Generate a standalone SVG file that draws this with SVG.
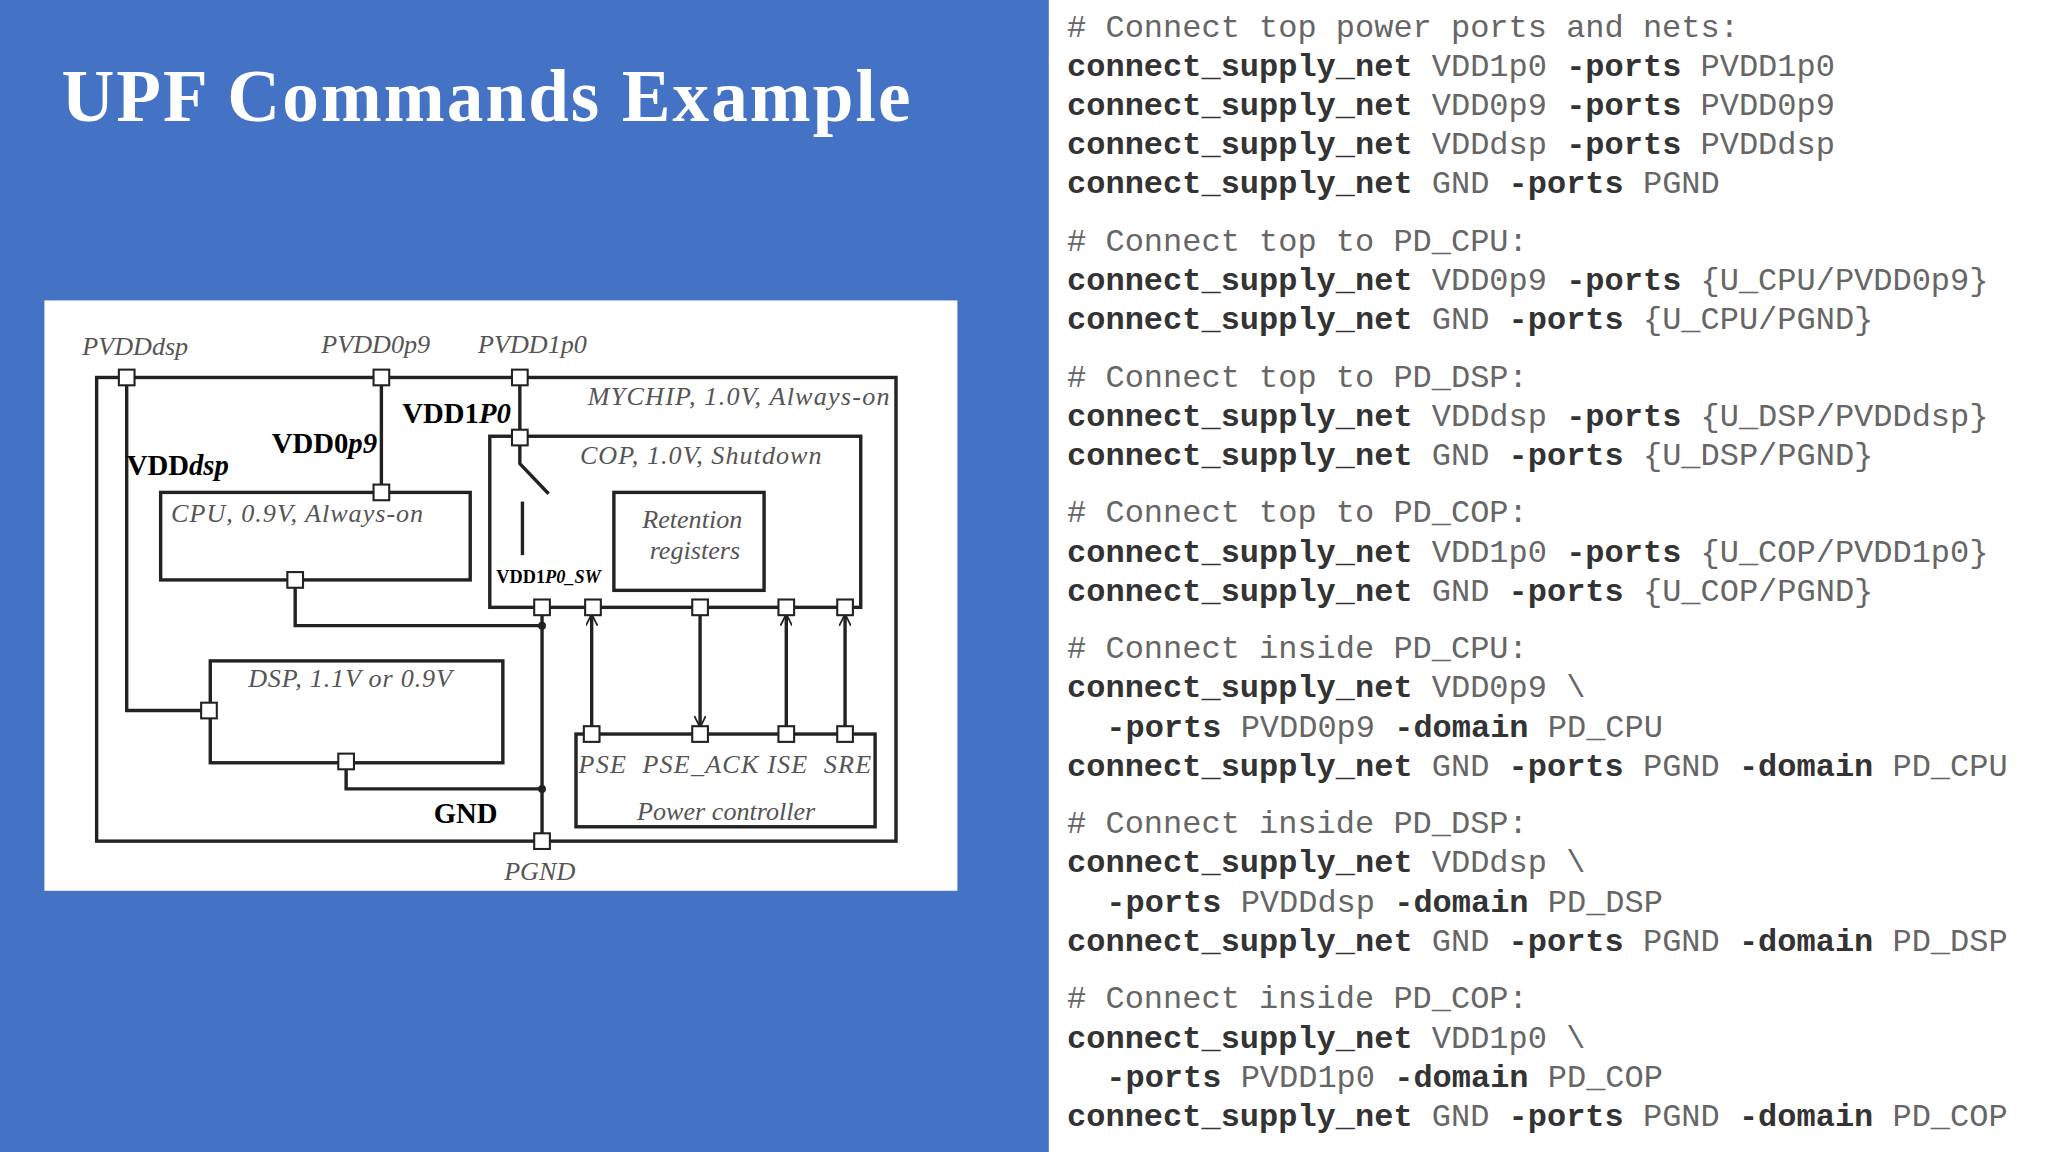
<svg xmlns="http://www.w3.org/2000/svg" width="2048" height="1152" viewBox="0 0 2048 1152">
<style>
.ln{stroke:#222;stroke-width:2.6;fill:none}
.bx{stroke:#222;stroke-width:2.6;fill:none}
.pt{stroke:#222;stroke-width:1.6;fill:#fff}
.lb{font-family:"Liberation Serif",serif;font-style:italic;font-size:20px;fill:#555}
.bl{font-family:"Liberation Serif",serif;font-weight:bold;font-size:22px;fill:#000}
.c{font-family:"Liberation Mono",monospace;font-size:24.5px;fill:#666}
.b{font-weight:bold;fill:#333}
</style>
<defs>
<marker id="ah" viewBox="0 0 10 10" refX="9" refY="5" markerWidth="9" markerHeight="9" orient="auto-start-reverse" markerUnits="userSpaceOnUse"><path d="M0,0 L10,5 L0,10" fill="none" stroke="#222" stroke-width="1.5"/></marker>
</defs>
<rect width="2048" height="1152" fill="#4472c4"/>
<g transform="scale(1.30612)">
<text x="47" y="93" font-family="Liberation Serif,serif" font-weight="bold" font-size="56" fill="#fff" textLength="650">UPF Commands Example</text>
<rect x="34" y="230" width="699" height="452" fill="#fff"/>
<rect x="803" y="0" width="765" height="882" fill="#fff"/>

<g id="connectors">
<path class="ln" d="M97,289 V544 H160"/>
<path class="ln" d="M292,289 V377"/>
<path class="ln" d="M398,289 V335 V355 L420,378"/>
<path class="ln" d="M400,384 V425"/>
<path class="ln" d="M226,444 V479 H415"/>
<path class="ln" d="M265,583 V604 H415"/>
<path class="ln" d="M415,465 V644"/>
<circle cx="415" cy="479" r="3" fill="#222"/>
<circle cx="415" cy="604" r="3" fill="#222"/>
<line class="ln" x1="453" y1="562" x2="453" y2="471" marker-end="url(#ah)"/>
<line class="ln" x1="536" y1="471" x2="536" y2="556" marker-end="url(#ah)"/>
<line class="ln" x1="602" y1="562" x2="602" y2="471" marker-end="url(#ah)"/>
<line class="ln" x1="647" y1="562" x2="647" y2="471" marker-end="url(#ah)"/>
</g>

<g id="mychip">
<rect class="bx" x="74" y="289" width="612" height="355"/>
<text class="lb" x="450" y="310" textLength="231">MYCHIP, 1.0V, Always-on</text>
</g>
<g id="cop">
<rect class="bx" x="375" y="334" width="284" height="131"/>
<text class="lb" x="444" y="355" textLength="185">COP, 1.0V, Shutdown</text>
</g>
<g id="retention">
<rect class="bx" x="470" y="377" width="115" height="75"/>
<text class="lb" x="530" y="404" text-anchor="middle">Retention</text>
<text class="lb" x="532" y="428" text-anchor="middle">registers</text>
</g>
<g id="cpu">
<rect class="bx" x="123" y="377" width="237" height="67"/>
<text class="lb" x="131" y="400" textLength="193">CPU, 0.9V, Always-on</text>
</g>
<g id="dsp">
<rect class="bx" x="161" y="506" width="224" height="78"/>
<text class="lb" x="190" y="526" textLength="156">DSP, 1.1V or 0.9V</text>
</g>
<g id="pc">
<rect class="bx" x="441" y="562" width="229" height="71"/>
<text class="lb" x="443" y="592" textLength="224" xml:space="preserve">PSE  PSE_ACK ISE  SRE</text>
<text class="lb" x="556" y="628" text-anchor="middle">Power controller</text>
</g>
<g id="ports">
<rect class="pt" x="91" y="283" width="12" height="12"/>
<rect class="pt" x="286" y="283" width="12" height="12"/>
<rect class="pt" x="392" y="283" width="12" height="12"/>
<rect class="pt" x="392" y="329" width="12" height="12"/>
<rect class="pt" x="286" y="371" width="12" height="12"/>
<rect class="pt" x="220" y="438" width="12" height="12"/>
<rect class="pt" x="154" y="538" width="12" height="12"/>
<rect class="pt" x="259" y="577" width="12" height="12"/>
<rect class="pt" x="409" y="638" width="12" height="12"/>
<rect class="pt" x="409" y="459" width="12" height="12"/>
<rect class="pt" x="448" y="459" width="12" height="12"/>
<rect class="pt" x="530" y="459" width="12" height="12"/>
<rect class="pt" x="596" y="459" width="12" height="12"/>
<rect class="pt" x="641" y="459" width="12" height="12"/>
<rect class="pt" x="447" y="556" width="12" height="12"/>
<rect class="pt" x="530" y="556" width="12" height="12"/>
<rect class="pt" x="596" y="556" width="12" height="12"/>
<rect class="pt" x="641" y="556" width="12" height="12"/>
</g>
<g id="labels">
<text class="lb" x="63" y="272">PVDDdsp</text>
<text class="lb" x="246" y="270">PVDD0p9</text>
<text class="lb" x="366" y="270">PVDD1p0</text>
<text class="lb" x="386" y="674">PGND</text>
<text class="bl" x="308" y="324">VDD1<tspan font-style="italic">P0</tspan></text>
<text class="bl" x="208" y="347">VDD0<tspan font-style="italic">p9</tspan></text>
<text class="bl" x="97" y="364">VDD<tspan font-style="italic">dsp</tspan></text>
<text class="bl" x="380" y="446" style="font-size:14px">VDD1<tspan font-style="italic">P0_SW</tspan></text>
<text class="bl" x="332" y="630">GND</text>
</g>

<g id="code">
<text class="c" x="817" y="28"># Connect top power ports and nets:</text>
<text class="c" x="817" y="58"><tspan class="b">connect_supply_net</tspan> VDD1p0 <tspan class="b">-ports</tspan> PVDD1p0</text>
<text class="c" x="817" y="88"><tspan class="b">connect_supply_net</tspan> VDD0p9 <tspan class="b">-ports</tspan> PVDD0p9</text>
<text class="c" x="817" y="118"><tspan class="b">connect_supply_net</tspan> VDDdsp <tspan class="b">-ports</tspan> PVDDdsp</text>
<text class="c" x="817" y="148"><tspan class="b">connect_supply_net</tspan> GND <tspan class="b">-ports</tspan> PGND</text>
<text class="c" x="817" y="192"># Connect top to PD_CPU:</text>
<text class="c" x="817" y="222"><tspan class="b">connect_supply_net</tspan> VDD0p9 <tspan class="b">-ports</tspan> {U_CPU/PVDD0p9}</text>
<text class="c" x="817" y="252"><tspan class="b">connect_supply_net</tspan> GND <tspan class="b">-ports</tspan> {U_CPU/PGND}</text>
<text class="c" x="817" y="296"># Connect top to PD_DSP:</text>
<text class="c" x="817" y="326"><tspan class="b">connect_supply_net</tspan> VDDdsp <tspan class="b">-ports</tspan> {U_DSP/PVDDdsp}</text>
<text class="c" x="817" y="356"><tspan class="b">connect_supply_net</tspan> GND <tspan class="b">-ports</tspan> {U_DSP/PGND}</text>
<text class="c" x="817" y="400"># Connect top to PD_COP:</text>
<text class="c" x="817" y="430"><tspan class="b">connect_supply_net</tspan> VDD1p0 <tspan class="b">-ports</tspan> {U_COP/PVDD1p0}</text>
<text class="c" x="817" y="460"><tspan class="b">connect_supply_net</tspan> GND <tspan class="b">-ports</tspan> {U_COP/PGND}</text>
<text class="c" x="817" y="504"># Connect inside PD_CPU:</text>
<text class="c" x="817" y="534"><tspan class="b">connect_supply_net</tspan> VDD0p9 \</text>
<text class="c" x="847" y="564"><tspan class="b">-ports</tspan> PVDD0p9 <tspan class="b">-domain</tspan> PD_CPU</text>
<text class="c" x="817" y="594"><tspan class="b">connect_supply_net</tspan> GND <tspan class="b">-ports</tspan> PGND <tspan class="b">-domain</tspan> PD_CPU</text>
<text class="c" x="817" y="638"># Connect inside PD_DSP:</text>
<text class="c" x="817" y="668"><tspan class="b">connect_supply_net</tspan> VDDdsp \</text>
<text class="c" x="847" y="698"><tspan class="b">-ports</tspan> PVDDdsp <tspan class="b">-domain</tspan> PD_DSP</text>
<text class="c" x="817" y="728"><tspan class="b">connect_supply_net</tspan> GND <tspan class="b">-ports</tspan> PGND <tspan class="b">-domain</tspan> PD_DSP</text>
<text class="c" x="817" y="772"># Connect inside PD_COP:</text>
<text class="c" x="817" y="802"><tspan class="b">connect_supply_net</tspan> VDD1p0 \</text>
<text class="c" x="847" y="832"><tspan class="b">-ports</tspan> PVDD1p0 <tspan class="b">-domain</tspan> PD_COP</text>
<text class="c" x="817" y="862"><tspan class="b">connect_supply_net</tspan> GND <tspan class="b">-ports</tspan> PGND <tspan class="b">-domain</tspan> PD_COP</text>
</g>
</g>
</svg>
